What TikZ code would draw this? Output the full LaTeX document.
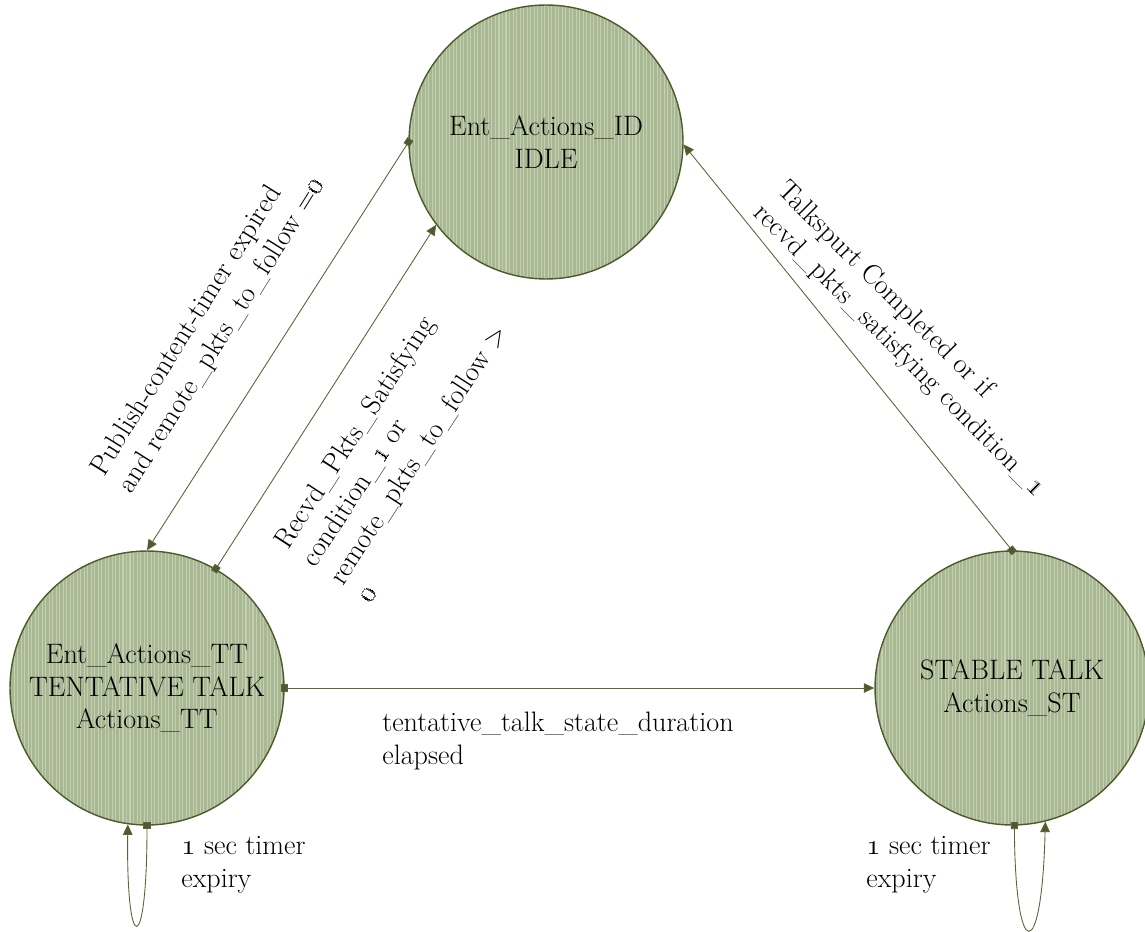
\documentclass[tikz,border=0pt]{standalone}
\usepackage{tikz}
\usetikzlibrary{arrows.meta,patterns.meta}
\definecolor{statefill}{HTML}{A8B892}
\definecolor{statestripe}{HTML}{C4CFB3}
\definecolor{stateline}{HTML}{4D5A2B}
\definecolor{edgeline}{HTML}{5E6238}

\begin{document}
\begin{tikzpicture}[x=0.02cm,y=-0.02cm,
		font=\fontsize{16}{18.7}\selectfont,
		state/.style={circle, minimum size=5.48cm, inner sep=0pt, align=center,
			draw=stateline, line width=0.8pt, preaction={fill=statefill},
			pattern={Lines[angle=90,distance=2pt,line width=0.6pt]}, pattern color=statestripe},
		trans/.style={draw=edgeline, line width=0.5pt, shorten <=-2pt,
			{Square[length=4pt,width=4pt,fill=stateline]}-{Triangle[length=6pt,width=5.5pt,fill=stateline]}},
		lbl/.style={inner sep=0pt, align=left}]
	\useasboundingbox (0,0) rectangle (1145,932);
	% states
	\node[state] (idle) at (546,142) {Ent\_Actions\_ID\\IDLE};
	\node[state] (tt) at (147,688) {Ent\_Actions\_TT\\TENTATIVE TALK\\Actions\_TT};
	\node[state] (st) at (1012,688) {STABLE TALK\\Actions\_ST};
	% transitions
	\draw[trans] (idle.180) -- (tt.90);
	\draw[trans] (tt.60) -- (idle.217);
	\draw[trans] (tt.0) -- (st.180);
	\draw[trans] (st.90) -- (idle.-1);
	\draw[trans] (tt.270) .. controls (147,958) and (126,958) .. (tt.262);
	\draw[trans] (st.271) .. controls (1015,965) and (1042,965) .. (st.284);
	% labels
	\node[lbl, rotate=58, anchor=north west] (pubtxt) at (87,467)
		{Publish-content-timer expired\\and remote\_pkts\_to\_follow =\oldstylenums{0}};
	\node[lbl, rotate=57, anchor=north west] (recvtxt) at (271,540)
		{Recvd\_Pkts\_Satisfying\\condition\_\oldstylenums{1} or\\remote\_pkts\_to\_follow >\\\oldstylenums{0}};
	\node[lbl, rotate=-45, anchor=north west] (spurttxt) at (790,177)
		{Talkspurt Completed or if\\recvd\_pkts\_satisfying condition\_\oldstylenums{1}};
	\node[lbl, anchor=north west] (durtxt) at (382,712)
		{tentative\_talk\_state\_duration\\elapsed};
	\node[lbl, anchor=north west] (ttloop) at (181,836) {\oldstylenums{1} sec timer\\expiry};
	\node[lbl, anchor=north west] (stloop) at (866,836) {\oldstylenums{1} sec timer\\expiry};
\end{tikzpicture}
\end{document}
